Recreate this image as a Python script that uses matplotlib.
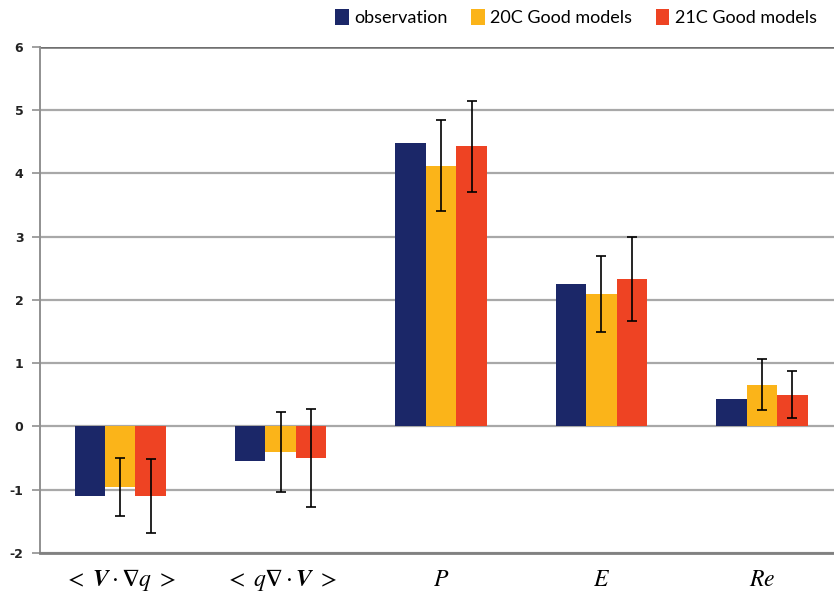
import matplotlib
matplotlib.use("Agg")
import matplotlib.pyplot as plt
import numpy as np
from matplotlib.patches import Patch

categories = [r'$<\ \boldsymbol{V}\cdot\boldsymbol{\nabla}q\ >$',
              r'$<\ q\boldsymbol{\nabla}\cdot\boldsymbol{V}\ >$',
              r'$P$', r'$E$', r'$Re$']
series_names = ['observation', '20C Good models', '21C Good models']
observation = [-1.10, -0.55, 4.49, 2.25, 0.43]
good20 = [-0.96, -0.40, 4.12, 2.10, 0.66]
good21 = [-1.10, -0.50, 4.43, 2.33, 0.50]
err20 = [0.46, 0.63, 0.72, 0.60, 0.40]
err21 = [0.58, 0.77, 0.72, 0.67, 0.37]
yticks = [-2, -1, 0, 1, 2, 3, 4, 5, 6]

colors = ['#1b2768', '#fbb419', '#ee4323']

plt.rcParams['mathtext.fontset'] = 'stix'
fig = plt.figure(figsize=(8.34, 5.98), dpi=100)
ax = fig.add_axes([0.048, 0.0753, 0.952, 0.8461])

x = np.arange(len(categories))
w = 0.19
vals = [observation, good20, good21]
errs = [None, err20, err21]
for i, (v, e, c) in enumerate(zip(vals, errs, colors)):
    pos = x + (i - 1) * w
    ax.bar(pos, v, width=w, color=c, zorder=3)
    if e is not None:
        ax.errorbar(pos, v, yerr=e, fmt='none', ecolor='black', elinewidth=1.2,
                    capsize=3.5, capthick=1.2, zorder=4)

ax.set_xlim(-0.5, 4.45)
ax.set_ylim(-2, 6)
ax.set_yticks(yticks)
ax.set_yticklabels([str(t) for t in yticks], fontsize=9, fontweight='bold', color='#222222')
ax.yaxis.grid(True, color='#a8a8a8', linewidth=1.6, zorder=0)
ax.set_axisbelow(True)
ax.tick_params(axis='y', length=6, width=1.2, color='#909090', pad=6)
ax.set_xticks(x)
ax.set_xticklabels(categories, fontsize=17)
ax.tick_params(axis='x', length=0, pad=10)
for s in ['top', 'right']:
    ax.spines[s].set_visible(False)
ax.spines['left'].set_color('#909090')
ax.spines['left'].set_linewidth(1.4)
ax.spines['bottom'].set_color('#808080')
ax.spines['bottom'].set_linewidth(2)
ax.axhline(6, color='#707070', linewidth=1.8, zorder=1)

handles = [Patch(facecolor=c) for c in colors]
fig.legend(handles, series_names, loc='upper right', bbox_to_anchor=(0.99, 1.0),
           ncol=3, frameon=False, handlelength=0.75, handleheight=1.0,
           handletextpad=0.3, columnspacing=1.3, borderaxespad=0.1,
           prop={'family': 'Lato', 'size': 13})

fig.savefig('out.png', dpi=100)
